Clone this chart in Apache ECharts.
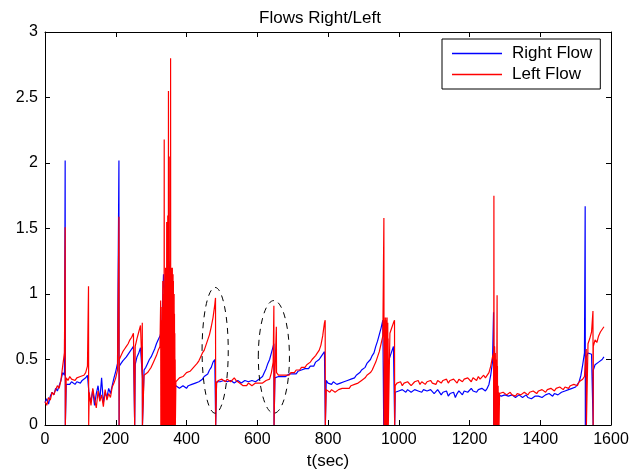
<!DOCTYPE html>
<html>
<head>
<meta charset="utf-8">
<script src="https://cdn.jsdelivr.net/npm/echarts@6/dist/echarts.min.js"></script>
<style>
  html, body { margin: 0; padding: 0; background: #fff; }
  #main { width: 640px; height: 469px; }
</style>
</head>
<body>
<div id="main"></div>
<script>
// sample spacing of the base series (seconds)
const STEP = 5;

// Right Flow, one value every STEP seconds from t=0 to t=1580
const rightFlow = [
  0.17,0.20,0.16,0.22,0.25,0.23,0.28,0.26,0.30,0.34,0.40,0.38,
  0.31,0.32,0.31,0.33,0.32,0.31,0.33,0.32,0.32,0.34,0.33,0.36,0.38,
  0.22,0.18,0.27,0.15,0.24,0.30,0.19,0.36,0.17,0.25,0.21,0.28,0.24,0.30,0.36,0.41,0.47,
  0.45,0.47,0.49,0.50,0.52,0.53,0.56,0.58,0.60,
  0.46,0.52,0.55,0.59,
  0.38,0.42,0.44,0.47,0.50,0.52,0.55,0.58,0.62,0.65,0.68,
  0.72,1.15,0.95,1.00,1.25,1.10,0.85,0.32,
  0.30,0.29,0.28,0.29,0.30,0.29,0.28,0.30,0.29,0.31,0.30,0.32,0.31,0.33,0.34,0.35,0.37,0.38,0.39,0.42,0.44,0.48,0.50,
  0.33,0.34,0.33,0.32,0.34,0.33,0.33,0.32,0.34,0.33,0.32,0.33,0.34,0.33,0.32,0.33,0.34,0.33,0.33,0.32,0.34,0.35,0.33,0.34,0.35,0.36,0.37,0.40,0.43,0.47,0.50,0.55,0.60,
  0.36,0.36,0.37,0.36,0.37,0.38,0.37,0.38,0.39,0.38,0.39,0.40,0.39,0.41,0.40,0.42,0.41,0.43,0.44,0.43,0.45,0.46,0.45,0.48,0.47,0.50,0.52,0.53,0.56,
  0.34,0.32,0.33,0.31,0.33,0.32,0.31,0.30,0.32,0.31,0.33,0.32,0.34,0.33,0.35,0.34,0.36,0.38,0.37,0.40,0.42,0.41,0.44,0.47,0.46,0.50,0.53,0.55,0.60,0.64,0.69,0.74,0.80,
  0.50,0.46,0.48,0.52,0.56,0.60,
  0.25,0.24,0.26,0.25,0.27,0.26,0.25,0.27,0.26,0.25,
  0.26,0.27,0.28,0.26,0.27,0.25,0.27,0.28,0.26,0.25,
  0.27,0.26,0.24,0.25,0.27,0.26,0.23,0.25,0.24,0.26,
  0.22,0.24,0.23,0.25,0.21,0.24,0.26,0.25,0.23,0.26,
  0.27,0.25,0.26,0.28,0.26,0.27,0.25,0.27,0.26,0.28,
  0.27,0.26,0.28,0.31,0.38,0.48,
  0.60,0.30,0.23,
  0.23,0.22,0.21,0.23,0.22,0.22,0.21,0.23,0.22,0.21,
  0.22,0.23,0.22,0.21,0.22,0.23,0.21,0.22,0.20,0.21,
  0.22,0.21,0.22,0.23,0.21,0.22,0.23,0.22,0.24,0.23,
  0.22,0.24,0.25,0.23,0.24,0.25,0.24,0.26,0.25,0.27,
  0.26,0.28,0.27,0.29,
  0.30,0.33,0.38,0.46,0.55,
  0.52,0.55,0.56,0.54,
  0.42,0.46,0.45,0.48,0.47,0.50,0.52
];

// Left Flow, same time base
const leftFlow = [
  0.18,0.15,0.21,0.19,0.25,0.23,0.27,0.30,0.28,0.34,0.45,0.55,
  0.36,0.34,0.37,0.35,0.36,0.34,0.36,0.35,0.37,0.36,0.38,0.40,0.45,
  0.25,0.15,0.28,0.20,0.13,0.26,0.18,0.23,0.14,0.27,0.19,0.24,0.21,0.29,0.32,0.36,0.42,
  0.50,0.53,0.56,0.58,0.60,0.62,0.65,0.67,0.70,
  0.60,0.66,0.71,0.76,
  0.36,0.38,0.37,0.40,0.42,0.44,0.47,0.50,0.53,0.57,0.60,
  0.80,0.80,0.80,0.80,0.80,0.80,0.80,0.33,
  0.33,0.34,0.36,0.35,0.37,0.38,0.40,0.39,0.41,0.42,0.44,0.45,0.47,0.49,0.52,0.55,0.57,0.61,0.65,0.69,0.75,0.82,0.92,
  0.32,0.34,0.33,0.35,0.34,0.33,0.35,0.34,0.33,0.34,0.36,0.34,0.33,0.32,0.31,0.30,0.31,0.30,0.32,0.31,0.30,0.31,0.32,0.31,0.32,0.33,0.32,0.33,0.34,0.33,0.35,0.40,0.48,
  0.40,0.39,0.38,0.37,0.38,0.37,0.38,0.39,0.38,0.40,0.41,0.40,0.42,0.43,0.42,0.44,0.45,0.44,0.46,0.47,0.48,0.50,0.51,0.53,0.55,0.57,0.61,0.68,0.78,
  0.27,0.26,0.25,0.27,0.26,0.25,0.26,0.27,0.26,0.28,0.27,0.28,0.29,0.28,0.30,0.29,0.31,0.30,0.32,0.33,0.34,0.33,0.36,0.38,0.37,0.40,0.42,0.45,0.48,0.52,0.56,0.62,0.68,
  0.70,0.65,0.66,0.70,0.74,0.78,
  0.30,0.32,0.31,0.33,0.30,0.32,0.31,0.33,0.32,0.30,
  0.31,0.33,0.32,0.34,0.31,0.33,0.32,0.31,0.33,0.32,
  0.34,0.32,0.33,0.31,0.34,0.33,0.32,0.34,0.33,0.35,
  0.32,0.34,0.33,0.35,0.34,0.32,0.35,0.34,0.33,0.35,
  0.34,0.36,0.35,0.33,0.36,0.35,0.34,0.37,0.35,0.36,
  0.38,0.36,0.37,0.40,0.45,0.52,
  0.50,0.30,0.24,
  0.24,0.23,0.25,0.24,0.23,0.24,0.25,0.23,0.24,0.22,
  0.24,0.25,0.23,0.24,0.25,0.24,0.23,0.25,0.24,0.26,
  0.25,0.24,0.26,0.25,0.27,0.26,0.25,0.27,0.26,0.28,
  0.27,0.26,0.28,0.27,0.29,0.28,0.27,0.29,0.30,0.28,
  0.30,0.29,0.31,0.30,
  0.30,0.33,0.32,0.35,0.37,
  0.58,0.62,0.66,0.71,
  0.60,0.65,0.63,0.68,0.71,0.70,0.75
];

// resets: [time, peak, value just after]
const rightSpikes = [
  [57, 2.02, 0], [209, 2.02, 0], [253, 0.60, 0], [275, 0.60, 0],
  [482, 0.50, 0], [647, 0.62, 0], [792, 0.56, 0], [957, 0.80, 0],
  [988, 0.60, 0], [1268, 0.86, 0], [1527, 1.67, 0], [1549, 0.55, 0]
];

const leftSpikes = [
  [57, 1.51, 0], [123, 1.06, 0], [209, 1.59, 0], [253, 0.70, 0], [275, 0.78, 0],
  // burst around 330-370 s
  [327, 0.95, 0], [328, 0.70, 0], [329, 0.80, 0], [330, 0.75, 0], [331, 0.90, 0],
  [332, 0.85, 0], [333, 1.10, 0], [334, 0.80, 0], [335, 0.95, 0], [336, 1.00, 0],
  [337, 2.18, 0], [338, 0.90, 0], [339, 1.05, 0], [340, 0.85, 0], [341, 1.20, 0],
  [342, 0.95, 0], [343, 1.00, 0], [344, 1.55, 0], [345, 0.90, 0], [346, 1.10, 0],
  [347, 1.60, 0], [348, 1.00, 0], [349, 2.55, 0], [350, 0.95, 0], [351, 1.15, 0],
  [352, 1.05, 0], [353, 2.05, 0], [354, 1.00, 0], [355, 2.80, 0], [356, 1.10, 0],
  [357, 1.20, 0], [358, 1.00, 0], [359, 1.15, 0], [360, 1.20, 0], [361, 0.95, 0],
  [362, 1.15, 0], [363, 1.10, 0], [364, 0.90, 0], [365, 1.00, 0], [366, 0.85, 0],
  [367, 0.70, 0], [368, 0.50, 0],
  [482, 0.97, 0], [647, 0.91, 0], [654, 0.75, 0.40], [792, 0.80, 0],
  // burst around 960 s
  [958, 1.58, 0], [959, 0.82, 0], [960, 0.78, 0], [961, 0.80, 0], [962, 0.75, 0],
  [963, 0.82, 0], [964, 0.70, 0], [965, 0.80, 0], [966, 0.76, 0], [967, 0.82, 0],
  [968, 0.72, 0], [969, 0.78, 0], [970, 0.66, 0],
  [988, 0.80, 0],
  // burst around 1275 s
  [1268, 0.55, 0], [1269, 1.75, 0], [1270, 0.50, 0], [1271, 0.60, 0], [1272, 0.45, 0],
  [1273, 0.55, 0], [1274, 0.40, 0], [1276, 0.50, 0], [1278, 0.99, 0], [1279, 0.45, 0],
  [1281, 0.30, 0], [1283, 0.25, 0],
  [1530, 0.38, 0], [1549, 0.87, 0]
];

// dashed ellipses: [center t, center value, half width (s), half height]
const ellipses = [[481, 0.57, 37, 0.48], [647, 0.52, 44, 0.43]];

function buildSeries(values, spikes) {
  let pts = values.map(function (v, i) { return [i * STEP, v]; });
  spikes.forEach(function (s) {
    pts.push([s[0], s[1]]);
    pts.push([s[0] + 0.5, s[2]]);
  });
  pts.sort(function (a, b) { return a[0] - b[0]; });
  return pts;
}

const font = 'Liberation Sans, Arial, sans-serif';
const axisCommon = {
  axisLine: { show: true, onZero: false, lineStyle: { color: '#000', width: 1 } },
  axisTick: { show: true, inside: true, length: 5, lineStyle: { color: '#000' } },
  splitLine: { show: false }
};

let chart = echarts.init(document.getElementById('main'), null, { renderer: 'canvas' });

let option = {
  animation: false,
  backgroundColor: '#fff',
  title: {
    text: 'Flows Right/Left',
    left: 'center',
    top: 5,
    textStyle: { fontFamily: font, fontSize: 17, fontWeight: 'normal', color: '#000' }
  },
  legend: {
    data: ['Right Flow', 'Left Flow'],
    orient: 'vertical',
    left: 442,
    top: 39,
    padding: [6, 8, 6, 10],
    itemGap: 4,
    itemWidth: 50,
    itemHeight: 1.5,
    icon: 'rect',
    borderColor: '#000',
    borderWidth: 1,
    borderRadius: 0,
    backgroundColor: '#fff',
    textStyle: { fontFamily: font, fontSize: 17, color: '#000', padding: [0, 0, 0, 5] }
  },
  grid: { left: 45, right: 29, top: 32, bottom: 44, outerBoundsMode: 'none', containLabel: false },
  xAxis: [
    Object.assign({}, axisCommon, {
      type: 'value', min: 0, max: 1600, interval: 200,
      name: 't(sec)', nameLocation: 'middle', nameGap: 27,
      nameTextStyle: { fontFamily: font, fontSize: 17, color: '#000' },
      axisLabel: {
        fontFamily: font, fontSize: 16, color: '#000', margin: 7,
        formatter: function (v) { return String(v); }
      }
    }),
    Object.assign({}, axisCommon, {
      type: 'value', min: 0, max: 1600, interval: 200, position: 'top',
      axisLabel: { show: false }
    })
  ],
  yAxis: [
    Object.assign({}, axisCommon, {
      type: 'value', min: 0, max: 3, interval: 0.5,
      axisLabel: { fontFamily: font, fontSize: 16, color: '#000', margin: 7 }
    }),
    Object.assign({}, axisCommon, {
      type: 'value', min: 0, max: 3, interval: 0.5, position: 'right',
      axisLabel: { show: false }
    })
  ],
  series: [
    {
      name: 'Right Flow', type: 'line', symbol: 'none', sampling: null,
      xAxisIndex: 0, yAxisIndex: 0,
      lineStyle: { color: '#0000ff', width: 1.2 },
      itemStyle: { color: '#0000ff' },
      data: buildSeries(rightFlow, rightSpikes)
    },
    {
      name: 'Left Flow', type: 'line', symbol: 'none', sampling: null,
      xAxisIndex: 0, yAxisIndex: 0,
      lineStyle: { color: '#ff0000', width: 1.2 },
      itemStyle: { color: '#ff0000' },
      data: buildSeries(leftFlow, leftSpikes)
    }
  ]
};

chart.setOption(option);

// draw the dashed ellipses at data positions
let shapes = ellipses.map(function (e) {
  let c = chart.convertToPixel({ gridIndex: 0 }, [e[0], e[1]]);
  let r = chart.convertToPixel({ gridIndex: 0 }, [e[0] + e[2], e[1] + e[3]]);
  return {
    type: 'ellipse',
    shape: { cx: c[0], cy: c[1], rx: Math.abs(r[0] - c[0]), ry: Math.abs(c[1] - r[1]) },
    style: { fill: null, stroke: '#000', lineWidth: 1, lineDash: [6, 5] },
    z: 100
  };
});
chart.setOption({ graphic: shapes });
</script>
</body>
</html>
